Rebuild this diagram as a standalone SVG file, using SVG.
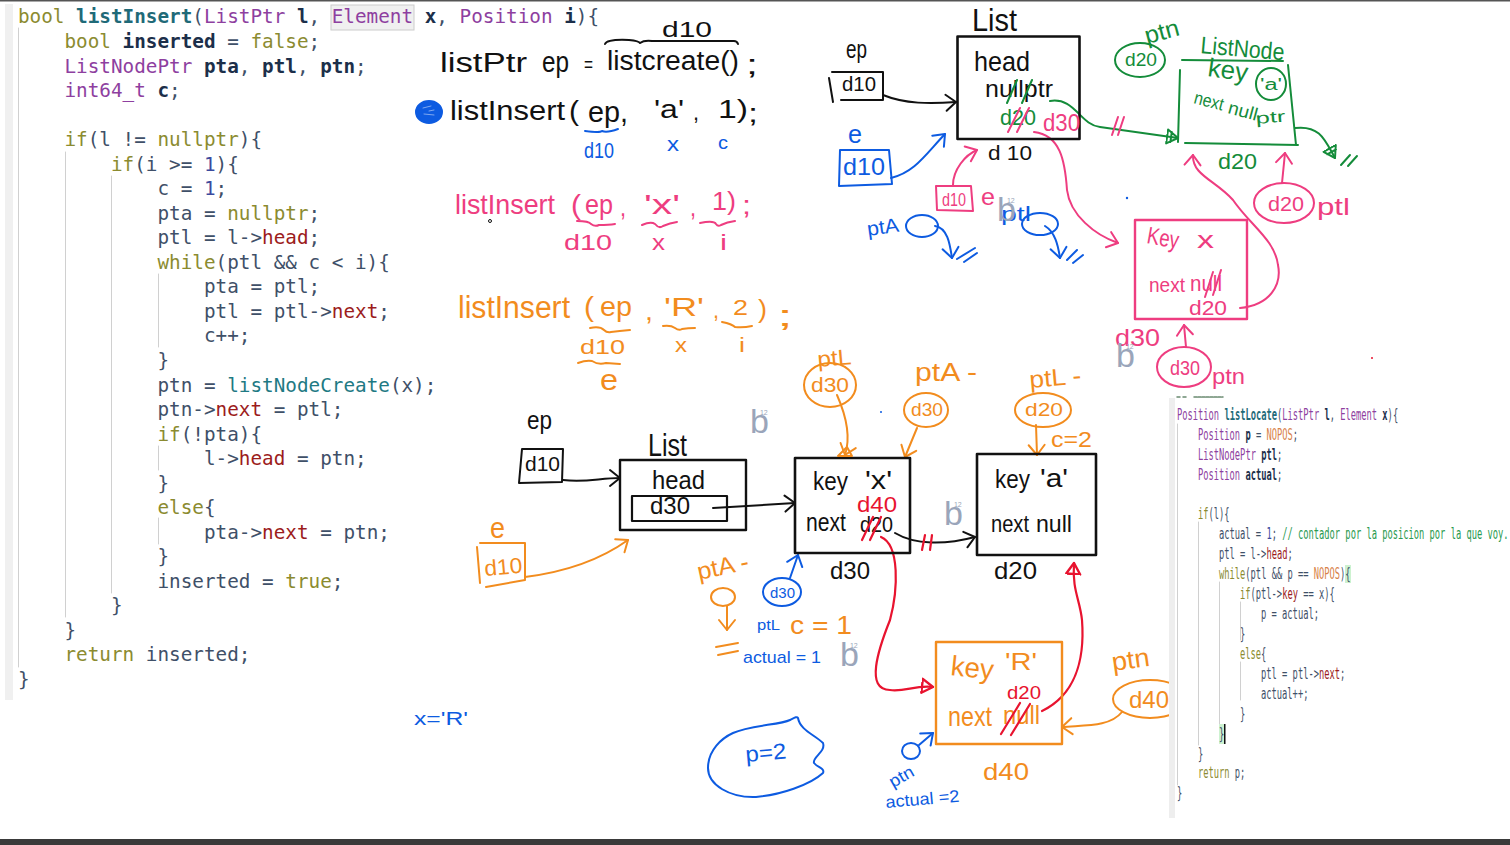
<svg xmlns="http://www.w3.org/2000/svg" width="1510" height="845" viewBox="0 0 1510 845">
<style>
text{white-space:pre}
.c{font-family:"DejaVu Sans Mono","Liberation Mono",monospace;font-size:19.31px;fill:#3f5068}
.m{font-family:"DejaVu Sans Mono","Liberation Mono",monospace;font-size:15px;fill:#3f5068}
.kw{fill:#8b8b30}.fn{fill:#1f6a78;font-weight:bold}.fp{fill:#1f7a84}.ty{fill:#8e3fa0}.v{fill:#1c2f4a;font-weight:bold}.mb{fill:#9c1c1c}.n{fill:#3b4a9e}.cm{fill:#2a9a50}.cn{fill:#d8824a}
.h{font-family:"Liberation Sans",Arial,sans-serif}
.tk{fill:#111}.tb{fill:#0d5be1}.tp{fill:#ee3d80}.tg{fill:#148c3a}.to{fill:#f28c1e}.tr{fill:#e8132f}
.i{font-family:"Liberation Sans",Arial,sans-serif;fill:#9aa5ba}
path,ellipse,rect.s,line{fill:none;stroke-linecap:round;stroke-linejoin:round}
.sk{stroke:#111;stroke-width:2}.sb{stroke:#0d5be1;stroke-width:2}.sp{stroke:#ee3d80;stroke-width:2}.sg{stroke:#148c3a;stroke-width:2}.so{stroke:#f28c1e;stroke-width:2}.sr{stroke:#e8132f;stroke-width:2.2}
.g{stroke:#d0d0d0;stroke-width:1}
</style>
<defs>
<marker id="ak" markerUnits="userSpaceOnUse" markerWidth="16" markerHeight="20" refX="12" refY="10" orient="auto"><path d="M2,2 L12,10 L2,18" stroke="#111" stroke-width="2" fill="none"/></marker>
<marker id="ab" markerUnits="userSpaceOnUse" markerWidth="16" markerHeight="20" refX="12" refY="10" orient="auto"><path d="M2,2 L12,10 L2,18" stroke="#0d5be1" stroke-width="2" fill="none"/></marker>
<marker id="ap" markerUnits="userSpaceOnUse" markerWidth="16" markerHeight="20" refX="12" refY="10" orient="auto"><path d="M2,2 L12,10 L2,18" stroke="#ee3d80" stroke-width="2" fill="none"/></marker>
<marker id="ag" markerUnits="userSpaceOnUse" markerWidth="16" markerHeight="20" refX="12" refY="10" orient="auto"><path d="M1,3 L12,10 L1,17 Z M5,5 L5,15" stroke="#148c3a" stroke-width="2" fill="none"/></marker>
<marker id="ao" markerUnits="userSpaceOnUse" markerWidth="16" markerHeight="20" refX="12" refY="10" orient="auto"><path d="M2,2 L12,10 L2,18" stroke="#f28c1e" stroke-width="2" fill="none"/></marker>
<marker id="ar" markerUnits="userSpaceOnUse" markerWidth="16" markerHeight="20" refX="12" refY="10" orient="auto"><path d="M1,3 L12,10 L1,17 Z" stroke="#e8132f" stroke-width="2.4" fill="none"/></marker>
</defs>
<rect width="1510" height="845" fill="#fff"/>
<rect width="1510" height="1.5" fill="#555"/>
<rect y="839" width="1510" height="6" fill="#3a3a3a"/>

<g id="code-left">
<rect x="5" y="4" width="8" height="696" fill="#f0f0f0"/>
<rect x="331" y="5" width="83" height="25" fill="#f0f0f0" stroke="#ccc"/>
<path class="g" d="M18.5,28V667M65.5,152V617M111.5,176V593M158.5,274V347M158.5,446V470M158.5,518V544"/>
<text class="c" x="18" y="23"><tspan class="kw">bool</tspan> <tspan class="fn">listInsert</tspan>(<tspan class="ty">ListPtr</tspan> <tspan class="v">l</tspan>, <tspan class="ty">Element</tspan> <tspan class="v">x</tspan>, <tspan class="ty">Position</tspan> <tspan class="v">i</tspan>){</text>
<text class="c" x="64.5" y="48"><tspan class="kw">bool</tspan> <tspan class="v">inserted</tspan> = <tspan class="kw">false</tspan>;</text>
<text class="c" x="64.5" y="72.5"><tspan class="ty">ListNodePtr</tspan> <tspan class="v">pta</tspan>, <tspan class="v">ptl</tspan>, <tspan class="v">ptn</tspan>;</text>
<text class="c" x="64.5" y="97"><tspan class="ty">int64_t</tspan> <tspan class="v">c</tspan>;</text>
<text class="c" x="64.5" y="146"><tspan class="kw">if</tspan>(l != <tspan class="kw">nullptr</tspan>){</text>
<text class="c" x="111" y="171"><tspan class="kw">if</tspan>(i &gt;= <tspan class="n">1</tspan>){</text>
<text class="c" x="157.5" y="195">c = <tspan class="n">1</tspan>;</text>
<text class="c" x="157.5" y="220">pta = <tspan class="kw">nullptr</tspan>;</text>
<text class="c" x="157.5" y="244">ptl = l-&gt;<tspan class="mb">head</tspan>;</text>
<text class="c" x="157.5" y="269"><tspan class="kw">while</tspan>(ptl &amp;&amp; c &lt; i){</text>
<text class="c" x="204" y="293">pta = ptl;</text>
<text class="c" x="204" y="318">ptl = ptl-&gt;<tspan class="mb">next</tspan>;</text>
<text class="c" x="204" y="342">c++;</text>
<text class="c" x="157.5" y="367">}</text>
<text class="c" x="157.5" y="392">ptn = <tspan class="fp">listNodeCreate</tspan>(x);</text>
<text class="c" x="157.5" y="416">ptn-&gt;<tspan class="mb">next</tspan> = ptl;</text>
<text class="c" x="157.5" y="441"><tspan class="kw">if</tspan>(!pta){</text>
<text class="c" x="204" y="465">l-&gt;<tspan class="mb">head</tspan> = ptn;</text>
<text class="c" x="157.5" y="490">}</text>
<text class="c" x="157.5" y="514"><tspan class="kw">else</tspan>{</text>
<text class="c" x="204" y="539">pta-&gt;<tspan class="mb">next</tspan> = ptn;</text>
<text class="c" x="157.5" y="563">}</text>
<text class="c" x="157.5" y="588">inserted = <tspan class="kw">true</tspan>;</text>
<text class="c" x="111" y="612">}</text>
<text class="c" x="64.5" y="637">}</text>
<text class="c" x="64.5" y="661"><tspan class="kw">return</tspan> inserted;</text>
<text class="c" x="18" y="686">}</text>
</g>

<g id="calls">
<path class="sk" d="M605,44q2,-5 24,-4q10,1 11,3q4,-3 12,-2l82,0q3,0 4,3"/>
<text class="h tk" x="662" y="37" font-size="22" textLength="50" lengthAdjust="spacingAndGlyphs">d10</text>
<text class="h tk" x="440" y="72" font-size="27" textLength="87" lengthAdjust="spacingAndGlyphs">listPtr</text>
<text class="h tk" x="542" y="72" font-size="29" textLength="27" lengthAdjust="spacingAndGlyphs">ep</text>
<text class="h tk" x="584" y="72" font-size="22" textLength="9" lengthAdjust="spacingAndGlyphs">=</text>
<text class="h tk" x="607" y="70" font-size="27" textLength="132" lengthAdjust="spacingAndGlyphs">listcreate()</text>
<text class="h tk" x="746" y="74" font-size="27" textLength="12" lengthAdjust="spacingAndGlyphs">;</text>
<ellipse cx="429" cy="112" rx="13" ry="11" style="fill:#0d5be1" class="sb"/>
<path d="M423,108l8,-2M424,114l10,1M429,111l5,-1" style="stroke:#7fa8f0;stroke-width:1"/>
<text class="h tk" x="450" y="120" font-size="27" textLength="115" lengthAdjust="spacingAndGlyphs">listInsert</text>
<text class="h tk" x="569" y="120" font-size="27" textLength="10" lengthAdjust="spacingAndGlyphs">(</text>
<text class="h tk" x="588" y="122" font-size="30" textLength="40" lengthAdjust="spacingAndGlyphs">ep,</text>
<text class="h tk" x="654" y="118" font-size="26" textLength="30" lengthAdjust="spacingAndGlyphs">'a'</text>
<text class="h tk" x="693" y="120" font-size="24" textLength="6" lengthAdjust="spacingAndGlyphs">,</text>
<text class="h tk" x="718" y="118" font-size="26" textLength="30" lengthAdjust="spacingAndGlyphs">1)</text>
<text class="h tk" x="748" y="122" font-size="26" textLength="10" lengthAdjust="spacingAndGlyphs">;</text>
<path class="sb" d="M585,131q15,2 17,0q5,2 16,-2"/>
<text class="h tb" x="584" y="158" font-size="22" textLength="30" lengthAdjust="spacingAndGlyphs">d10</text>
<text class="h tb" x="667" y="151" font-size="20" textLength="12" lengthAdjust="spacingAndGlyphs">x</text>
<text class="h tb" x="718" y="149" font-size="19" textLength="10" lengthAdjust="spacingAndGlyphs">c</text>

<text class="h tp" x="455" y="214" font-size="28" textLength="100" lengthAdjust="spacingAndGlyphs">listInsert</text>
<text class="h tp" x="571" y="214" font-size="28" textLength="10" lengthAdjust="spacingAndGlyphs">(</text>
<text class="h tp" x="585" y="214" font-size="28" textLength="28" lengthAdjust="spacingAndGlyphs">ep</text>
<text class="h tp" x="620" y="216" font-size="26" textLength="6" lengthAdjust="spacingAndGlyphs">,</text>
<text class="h tp" x="644" y="214" font-size="28" textLength="36" lengthAdjust="spacingAndGlyphs">'x'</text>
<text class="h tp" x="690" y="216" font-size="26" textLength="6" lengthAdjust="spacingAndGlyphs">,</text>
<text class="h tp" x="712" y="210" font-size="26" textLength="24" lengthAdjust="spacingAndGlyphs">1)</text>
<text class="h tp" x="742" y="214" font-size="26" textLength="9" lengthAdjust="spacingAndGlyphs">;</text>
<path class="sp" d="M577,221q12,0 14,3q4,3 8,1q10,0 16,-1M642,225q9,-4 13,-1q4,5 8,2q7,-3 14,-4M700,223q14,-3 16,1q2,3 5,1q6,-3 14,-4"/>
<text class="h tp" x="564" y="250" font-size="22" textLength="48" lengthAdjust="spacingAndGlyphs">d10</text>
<text class="h tp" x="652" y="250" font-size="22" textLength="13" lengthAdjust="spacingAndGlyphs">x</text>
<text class="h tp" x="720" y="250" font-size="22" textLength="7" lengthAdjust="spacingAndGlyphs">i</text>
<circle cx="490" cy="221" r="1.5" fill="none" stroke="#111"/>

<text class="h to" x="458" y="318" font-size="31" textLength="112" lengthAdjust="spacingAndGlyphs">listInsert</text>
<text class="h to" x="584" y="316" font-size="28" textLength="10" lengthAdjust="spacingAndGlyphs">(</text>
<text class="h to" x="600" y="316" font-size="28" textLength="32" lengthAdjust="spacingAndGlyphs">ep</text>
<text class="h to" x="645" y="320" font-size="26" textLength="8" lengthAdjust="spacingAndGlyphs">,</text>
<text class="h to" x="664" y="316" font-size="26" textLength="40" lengthAdjust="spacingAndGlyphs">'R'</text>
<text class="h to" x="713" y="318" font-size="22" textLength="6" lengthAdjust="spacingAndGlyphs">,</text>
<text class="h to" x="733" y="315" font-size="22" textLength="15" lengthAdjust="spacingAndGlyphs">2</text>
<text class="h to" x="758" y="318" font-size="26" textLength="9" lengthAdjust="spacingAndGlyphs">)</text>
<text class="h to" x="777" y="326" font-size="30" textLength="16" lengthAdjust="spacingAndGlyphs">;</text>
<path class="so" d="M590,328q10,-2 14,2q3,3 7,2q8,-1 19,-2M663,326q8,-1 12,2q4,3 7,1q6,-1 13,-1M722,322q10,2 13,5q8,1 17,-1"/>
<text class="h to" x="580" y="354" font-size="20" textLength="45" lengthAdjust="spacingAndGlyphs">d10</text>
<text class="h to" x="675" y="352" font-size="20" textLength="12" lengthAdjust="spacingAndGlyphs">x</text>
<text class="h to" x="739" y="352" font-size="20" textLength="6" lengthAdjust="spacingAndGlyphs">i</text>
<path class="so" d="M578,363q8,-3 14,-2q6,4 14,2l14,1"/>
<text class="h to" x="600" y="390" font-size="30" textLength="18" lengthAdjust="spacingAndGlyphs">e</text>
<text class="h tb" x="414" y="725" font-size="18" textLength="54" lengthAdjust="spacingAndGlyphs">x='R'</text>
</g>

<g id="connectors">
<path class="sk" d="M883,95C905,104 930,104 956,102" marker-end="url(#ak)"/>
<path class="sb" d="M891,178C915,172 925,155 945,134" marker-end="url(#ab)"/>
<path class="sp" d="M953,185C953,170 965,155 977,150" marker-end="url(#ap)"/>
<path class="sg" d="M1050,101C1075,97 1080,125 1100,127L1178,138" marker-end="url(#ag)"/>
<path class="sp" d="M1034,132C1060,135 1065,160 1067,190C1070,215 1095,235 1118,243" marker-end="url(#ap)"/>
<path class="sg" d="M1295,128C1320,125 1325,140 1335,158" marker-end="url(#ag)"/>
<path class="sp" d="M1240,308C1270,305 1282,285 1278,265C1275,240 1250,225 1233,200C1215,180 1192,175 1193,155" marker-end="url(#ap)"/>
<path class="sp" d="M1282,183L1285,153" marker-end="url(#ap)"/>
<path class="sp" d="M1186,347L1184,325" marker-end="url(#ap)"/>
<path class="sb" d="M935,226C948,228 950,245 952,258" marker-end="url(#ab)"/>
<path class="sb" d="M1045,226C1055,232 1058,245 1060,258" marker-end="url(#ab)"/>
<path class="sk" d="M563,480C585,483 600,478 620,478" marker-end="url(#ak)"/>
<path class="sk" d="M713,508L795,503" marker-end="url(#ak)"/>
<path class="sk" d="M895,533C915,545 945,545 975,537" marker-end="url(#ak)"/>
<path class="so" d="M525,577C565,572 600,560 628,540" marker-end="url(#ao)"/>
<path class="so" d="M837,395C848,420 850,440 845,455" marker-end="url(#ao)"/>
<path class="so" d="M917,428L905,457" marker-end="url(#ao)"/>
<path class="so" d="M1036,425L1037,455" marker-end="url(#ao)"/>
<path class="so" d="M727,606L727,630" marker-end="url(#ao)"/>
<path class="sb" d="M790,578L798,555" marker-end="url(#ab)"/>
<path class="sr" d="M881,537C900,545 898,590 890,620C878,650 865,690 890,690C905,692 915,685 933,687" marker-end="url(#ar)"/>
<path class="sr" d="M1042,711C1075,695 1085,660 1082,620C1080,600 1072,590 1074,563" marker-end="url(#ar)"/>
<path class="so" d="M1122,712C1110,727 1085,725 1062,727" marker-end="url(#ao)"/>
<path class="sb" d="M919,745L933,733" marker-end="url(#ab)"/>
<path class="sp" d="M1112,135L1118,117M1118,135L1124,117"/>
<path class="sg" d="M1341,165L1350,155M1348,166L1357,156"/>
<path class="sb" d="M957,259L975,248M964,262L977,253M1067,260L1077,250M1073,263L1083,255"/>
<path class="sr" d="M922,550L925,535M930,550L932,535"/>
</g>

<g id="list-top">
<rect class="s sk" x="957.5" y="36.5" width="122" height="102.5" style="stroke-width:2.6"/>
<text class="h tk" x="972" y="31" font-size="32" textLength="45" lengthAdjust="spacingAndGlyphs">List</text>
<text class="h tk" x="974" y="71" font-size="28" textLength="56" lengthAdjust="spacingAndGlyphs">head</text>
<text class="h tk" x="985" y="97" font-size="24" textLength="68" lengthAdjust="spacingAndGlyphs">nullptr</text>
<path class="sg" d="M1007,103L1017,80M1022,103L1032,80"/>
<text class="h tg" x="1000" y="125" font-size="22" textLength="36" lengthAdjust="spacingAndGlyphs">d20</text>
<path class="sp" d="M1008,132L1020,108M1017,132L1029,108"/>
<text class="h tp" x="1043" y="131" font-size="23" textLength="37" lengthAdjust="spacingAndGlyphs">d30</text>
<text class="h tk" x="988" y="160" font-size="20" textLength="44" lengthAdjust="spacingAndGlyphs">d 10</text>
</g>
<g id="ep-top">
<text class="h tk" x="846" y="58" font-size="26" textLength="21" lengthAdjust="spacingAndGlyphs">ep</text>
<path class="sk" d="M832,72H883V100H841M829,78L833,102"/>
<text class="h tk" x="842" y="91" font-size="20" textLength="34" lengthAdjust="spacingAndGlyphs">d10</text>
</g>
<g id="e-top">
<text class="h tb" x="848" y="143" font-size="26" textLength="14" lengthAdjust="spacingAndGlyphs">e</text>
<path class="sb" d="M840,150L889,150L892,184L839,186Z"/>
<text class="h tb" x="843" y="175" font-size="24" textLength="42" lengthAdjust="spacingAndGlyphs">d10</text>
</g>
<g id="e-pink">
<path class="sp" d="M936,186H971L973,211L937,210Z"/>
<text class="h tp" x="942" y="206" font-size="18" textLength="24" lengthAdjust="spacingAndGlyphs">d10</text>
<text class="h tp" x="981" y="205" font-size="24" textLength="14" lengthAdjust="spacingAndGlyphs">e</text>
</g>
<g id="pta-ptl-top">
<text class="h tb" x="868" y="236" font-size="20" textLength="32" lengthAdjust="spacingAndGlyphs" transform="rotate(-8 868 236)">ptA</text>
<ellipse class="sb" cx="922" cy="226" rx="16" ry="11"/>
<text class="h tb" x="1001" y="221" font-size="20" textLength="30" lengthAdjust="spacingAndGlyphs">ptl</text>
<ellipse class="sb" cx="1040" cy="224" rx="18" ry="11"/>
</g>
<g id="listnode-top">
<text class="h tg" x="1200" y="53" font-size="24" textLength="84" lengthAdjust="spacingAndGlyphs" transform="rotate(5 1200 53)">ListNode</text>
<path class="sg" d="M1182,60L1283,61M1180,70L1178,142M1288,65L1296,145M1185,143L1298,145"/>
<text class="h tg" x="1207" y="76" font-size="26" textLength="40" lengthAdjust="spacingAndGlyphs" transform="rotate(8 1207 76)">key</text>
<ellipse class="sg" cx="1271" cy="84" rx="15" ry="16"/>
<text class="h tg" x="1260" y="90" font-size="16" textLength="22" lengthAdjust="spacingAndGlyphs">'a'</text>
<text class="h tg" x="1193" y="103" font-size="18" textLength="30" lengthAdjust="spacingAndGlyphs" transform="rotate(15 1193 103)">next</text>
<text class="h tg" x="1227" y="113" font-size="18" textLength="30" lengthAdjust="spacingAndGlyphs" transform="rotate(15 1227 113)">null</text>
<text class="h tg" x="1256" y="124" font-size="16" textLength="30" lengthAdjust="spacingAndGlyphs" transform="rotate(-5 1256 124)">ptr</text>
<text class="h tg" x="1218" y="169" font-size="22" textLength="39" lengthAdjust="spacingAndGlyphs">d20</text>
<text class="h tg" x="1147" y="44" font-size="24" textLength="35" lengthAdjust="spacingAndGlyphs" transform="rotate(-15 1147 44)">ptn</text>
<ellipse class="sg" cx="1140" cy="60" rx="25" ry="17"/>
<text class="h tg" x="1125" y="66" font-size="18" textLength="32" lengthAdjust="spacingAndGlyphs">d20</text>
</g>
<g id="node-x-top">
<rect class="s sp" x="1135" y="220" width="112" height="99" style="stroke-width:2.4"/>
<text class="h tp" x="1146" y="243" font-size="24" textLength="32" lengthAdjust="spacingAndGlyphs" transform="rotate(10 1146 243)">Key</text>
<text class="h tp" x="1197" y="248" font-size="24" textLength="17" lengthAdjust="spacingAndGlyphs">x</text>
<text class="h tp" x="1149" y="292" font-size="20" textLength="36" lengthAdjust="spacingAndGlyphs">next</text>
<text class="h tp" x="1190" y="291" font-size="22" textLength="32" lengthAdjust="spacingAndGlyphs">null</text>
<path class="sp" d="M1205,297L1213,272M1213,295L1221,270"/>
<text class="h tp" x="1189" y="315" font-size="20" textLength="38" lengthAdjust="spacingAndGlyphs">d20</text>
<text class="h tp" x="1115" y="346" font-size="24" textLength="45" lengthAdjust="spacingAndGlyphs">d30</text>
<ellipse class="sp" cx="1184" cy="367" rx="27" ry="20"/>
<text class="h tp" x="1170" y="375" font-size="21" textLength="30" lengthAdjust="spacingAndGlyphs">d30</text>
<text class="h tp" x="1212" y="384" font-size="22" textLength="33" lengthAdjust="spacingAndGlyphs">ptn</text>
<ellipse class="sp" cx="1284" cy="203" rx="30" ry="20"/>
<text class="h tp" x="1268" y="211" font-size="21" textLength="36" lengthAdjust="spacingAndGlyphs">d20</text>
<text class="h tp" x="1317" y="215" font-size="24" textLength="33" lengthAdjust="spacingAndGlyphs">ptl</text>
</g>

<g id="ep-bottom">
<text class="h tk" x="527" y="429" font-size="26" textLength="25" lengthAdjust="spacingAndGlyphs">ep</text>
<path class="sk" d="M522,449H563L562,482L519,483Z"/>
<text class="h tk" x="525" y="471" font-size="20" textLength="35" lengthAdjust="spacingAndGlyphs">d10</text>
</g>
<g id="list-bottom">
<text class="h tk" x="648" y="456" font-size="32" textLength="39" lengthAdjust="spacingAndGlyphs">List</text>
<rect class="s sk" x="620" y="460" width="126" height="70" style="stroke-width:2.4"/>
<text class="h tk" x="652" y="489" font-size="26" textLength="53" lengthAdjust="spacingAndGlyphs">head</text>
<rect class="s sk" x="632" y="496" width="95" height="25" style="stroke-width:2.2"/>
<text class="h tk" x="650" y="514" font-size="24" textLength="40" lengthAdjust="spacingAndGlyphs">d30</text>
</g>
<g id="node-x">
<rect class="s sk" x="795" y="458" width="115" height="95" style="stroke-width:2.6"/>
<text class="h tk" x="813" y="490" font-size="25" textLength="35" lengthAdjust="spacingAndGlyphs">key</text>
<text class="h tk" x="865" y="489" font-size="25" textLength="27" lengthAdjust="spacingAndGlyphs">'x'</text>
<text class="h tr" x="857" y="512" font-size="22" textLength="40" lengthAdjust="spacingAndGlyphs">d40</text>
<text class="h tk" x="806" y="531" font-size="26" textLength="40" lengthAdjust="spacingAndGlyphs">next</text>
<text class="h tk" x="860" y="532" font-size="22" textLength="33" lengthAdjust="spacingAndGlyphs">d20</text>
<path class="sr" d="M862,540L873,517M870,540L881,517"/>
<text class="h tk" x="830" y="579" font-size="23" textLength="40" lengthAdjust="spacingAndGlyphs">d30</text>
</g>
<g id="node-a">
<rect class="s sk" x="977" y="454" width="119" height="101" style="stroke-width:2.6"/>
<text class="h tk" x="995" y="488" font-size="25" textLength="35" lengthAdjust="spacingAndGlyphs">key</text>
<text class="h tk" x="1040" y="487" font-size="25" textLength="28" lengthAdjust="spacingAndGlyphs">'a'</text>
<text class="h tk" x="991" y="532" font-size="24" textLength="38" lengthAdjust="spacingAndGlyphs">next</text>
<text class="h tk" x="1036" y="532" font-size="24" textLength="36" lengthAdjust="spacingAndGlyphs">null</text>
<text class="h tk" x="994" y="579" font-size="24" textLength="43" lengthAdjust="spacingAndGlyphs">d20</text>
</g>
<g id="e-bottom">
<text class="h to" x="490" y="538" font-size="30" textLength="15" lengthAdjust="spacingAndGlyphs">e</text>
<path class="so" d="M480,543L525,543V580L486,587M477,547L480,583"/>
<text class="h to" x="485" y="576" font-size="22" textLength="38" lengthAdjust="spacingAndGlyphs" transform="rotate(-5 485 576)">d10</text>
</g>
<g id="ptl-orange">
<text class="h to" x="818" y="367" font-size="22" textLength="34" lengthAdjust="spacingAndGlyphs" transform="rotate(-5 818 367)">ptL</text>
<ellipse class="so" cx="830" cy="385" rx="26" ry="22"/>
<text class="h to" x="811" y="392" font-size="21" textLength="38" lengthAdjust="spacingAndGlyphs">d30</text>
<path class="so" d="M838,456L847,447L852,456Z"/>
</g>
<g id="pta-orange">
<text class="h to" x="915" y="381" font-size="26" textLength="62" lengthAdjust="spacingAndGlyphs">ptA -</text>
<ellipse class="so" cx="926" cy="410" rx="22" ry="17"/>
<text class="h to" x="911" y="416" font-size="19" textLength="32" lengthAdjust="spacingAndGlyphs">d30</text>
</g>
<g id="ptl2-orange">
<text class="h to" x="1030" y="388" font-size="24" textLength="52" lengthAdjust="spacingAndGlyphs" transform="rotate(-5 1030 388)">ptL -</text>
<ellipse class="so" cx="1043" cy="410" rx="28" ry="17"/>
<text class="h to" x="1025" y="416" font-size="19" textLength="38" lengthAdjust="spacingAndGlyphs">d20</text>
<text class="h to" x="1051" y="447" font-size="22" textLength="41" lengthAdjust="spacingAndGlyphs">c=2</text>
</g>
<g id="pta-low">
<text class="h to" x="699" y="580" font-size="24" textLength="52" lengthAdjust="spacingAndGlyphs" transform="rotate(-12 699 580)">ptA -</text>
<ellipse class="so" cx="723" cy="597" rx="12" ry="9"/>
<path class="so" d="M716,647L738,643M718,655L738,651"/>
</g>
<g id="ptl-blue-low">
<ellipse class="sb" cx="782" cy="592" rx="19" ry="14"/>
<text class="h tb" x="770" y="598" font-size="15" textLength="25" lengthAdjust="spacingAndGlyphs">d30</text>
<text class="h tb" x="757" y="630" font-size="14" textLength="23" lengthAdjust="spacingAndGlyphs">ptL</text>
<text class="h to" x="790" y="634" font-size="26" textLength="62" lengthAdjust="spacingAndGlyphs">c = 1</text>
<text class="h tb" x="743" y="663" font-size="17" textLength="78" lengthAdjust="spacingAndGlyphs">actual = 1</text>
</g>
<g id="node-r">
<rect class="s so" x="936" y="642" width="126" height="102" style="stroke-width:2.4"/>
<text class="h to" x="950" y="675" font-size="28" textLength="43" lengthAdjust="spacingAndGlyphs" transform="rotate(6 950 675)">key</text>
<text class="h to" x="1005" y="670" font-size="24" textLength="32" lengthAdjust="spacingAndGlyphs">'R'</text>
<text class="h tr" x="1007" y="699" font-size="19" textLength="34" lengthAdjust="spacingAndGlyphs">d20</text>
<text class="h to" x="948" y="726" font-size="28" textLength="44" lengthAdjust="spacingAndGlyphs">next</text>
<text class="h to" x="1003" y="724" font-size="26" textLength="37" lengthAdjust="spacingAndGlyphs">null</text>
<path class="sr" d="M1001,734L1020,703M1011,735L1030,704"/>
<text class="h to" x="983" y="780" font-size="24" textLength="46" lengthAdjust="spacingAndGlyphs">d40</text>
</g>
<g id="ptn-orange">
<text class="h to" x="1113" y="671" font-size="26" textLength="38" lengthAdjust="spacingAndGlyphs" transform="rotate(-8 1113 671)">ptn</text>
<ellipse class="so" cx="1150" cy="699" rx="37" ry="19"/>
<text class="h to" x="1129" y="708" font-size="24" textLength="40" lengthAdjust="spacingAndGlyphs">d40</text>
</g>
<g id="ptn-blue">
<ellipse class="sb" cx="911" cy="751" rx="9" ry="8"/>
<text class="h tb" x="893" y="788" font-size="17" textLength="26" lengthAdjust="spacingAndGlyphs" transform="rotate(-30 893 788)">ptn</text>
<text class="h tb" x="886" y="808" font-size="17" textLength="74" lengthAdjust="spacingAndGlyphs" transform="rotate(-5 886 808)">actual =2</text>
</g>
<g id="blob">
<path class="sb" d="M798,718C800,730 815,735 823,743C826,752 812,757 814,763C818,768 825,768 823,773C810,785 780,795 756,797C730,798 708,785 708,768C708,750 722,738 733,733C750,725 780,725 790,720C794,718 797,716 798,718Z"/>
<text class="h tb" x="746" y="762" font-size="22" textLength="41" lengthAdjust="spacingAndGlyphs" transform="rotate(-5 746 762)">p=2</text>
</g>

<g id="code-right">
<rect x="1169" y="396" width="341" height="424" fill="#fff"/>
<rect x="1169" y="398" width="6" height="420" fill="#eee"/>
<path d="M1177,397h3M1183,397h3M1194,397h29" style="stroke:#6a8a70;stroke-width:1.5" stroke-dasharray="3 1"/>
<path class="g" d="M1177.5,424V785M1198.5,522V745M1219.5,582V725M1240.5,602V640M1240.5,662V700"/>
<rect x="1345" y="565" width="6" height="18" fill="#cdf2d0"/>
<rect x="1219" y="724" width="5" height="20" fill="#cdf2d0"/>
<rect x="1224" y="724" width="1.5" height="20" fill="#111"/>
<g transform="translate(1177 0) scale(.5836 1)">
<text class="m" x="0" y="420"><tspan class="ty">Position</tspan> <tspan class="fn">listLocate</tspan>(<tspan class="ty">ListPtr</tspan> <tspan class="v">l</tspan>, <tspan class="ty">Element</tspan> <tspan class="v">x</tspan>){</text>
<text class="m" x="36" y="440"><tspan class="ty">Position</tspan> <tspan class="v">p</tspan> = <tspan class="cn">NOPOS</tspan>;</text>
<text class="m" x="36" y="460"><tspan class="ty">ListNodePtr</tspan> <tspan class="v">ptl</tspan>;</text>
<text class="m" x="36" y="480"><tspan class="ty">Position</tspan> <tspan class="v">actual</tspan>;</text>
<text class="m" x="36" y="519"><tspan class="kw">if</tspan>(l){</text>
<text class="m" x="72" y="539">actual = <tspan class="n">1</tspan>; <tspan class="cm">// contador por la posicion por la que voy.</tspan></text>
<text class="m" x="72" y="559">ptl = l-&gt;<tspan class="mb">head</tspan>;</text>
<text class="m" x="72" y="579"><tspan class="kw">while</tspan>(ptl &amp;&amp; p == <tspan class="cn">NOPOS</tspan>){</text>
<text class="m" x="108" y="599"><tspan class="kw">if</tspan>(ptl-&gt;<tspan class="mb">key</tspan> == x){</text>
<text class="m" x="144" y="619">p = actual;</text>
<text class="m" x="108" y="639">}</text>
<text class="m" x="108" y="659"><tspan class="kw">else</tspan>{</text>
<text class="m" x="144" y="679">ptl = ptl-&gt;<tspan class="mb">next</tspan>;</text>
<text class="m" x="144" y="699">actual++;</text>
<text class="m" x="108" y="719">}</text>
<text class="m" x="72" y="739">}</text>
<text class="m" x="36" y="759">}</text>
<text class="m" x="36" y="778"><tspan class="kw">return</tspan> p;</text>
<text class="m" x="0" y="798">}</text>
</g>
</g>

<g id="b-marks">
<text class="i" x="997" y="221" font-size="34">b<tspan font-size="7" dx="-9" dy="-18">12</tspan></text>
<text class="i" x="1116" y="367" font-size="34">b<tspan font-size="7" dx="-9" dy="-18">12</tspan></text>
<text class="i" x="750" y="433" font-size="34">b<tspan font-size="7" dx="-9" dy="-18">12</tspan></text>
<text class="i" x="944" y="525" font-size="34">b<tspan font-size="7" dx="-9" dy="-18">12</tspan></text>
<text class="i" x="840" y="666" font-size="34">b<tspan font-size="7" dx="-9" dy="-18">12</tspan></text>
</g>
<circle cx="881" cy="412" r="1" fill="#0d5be1"/>
<circle cx="1127" cy="198" r="1.2" fill="#0d5be1"/>
<circle cx="1372" cy="358" r="1" fill="#e8132f"/>
</svg>
